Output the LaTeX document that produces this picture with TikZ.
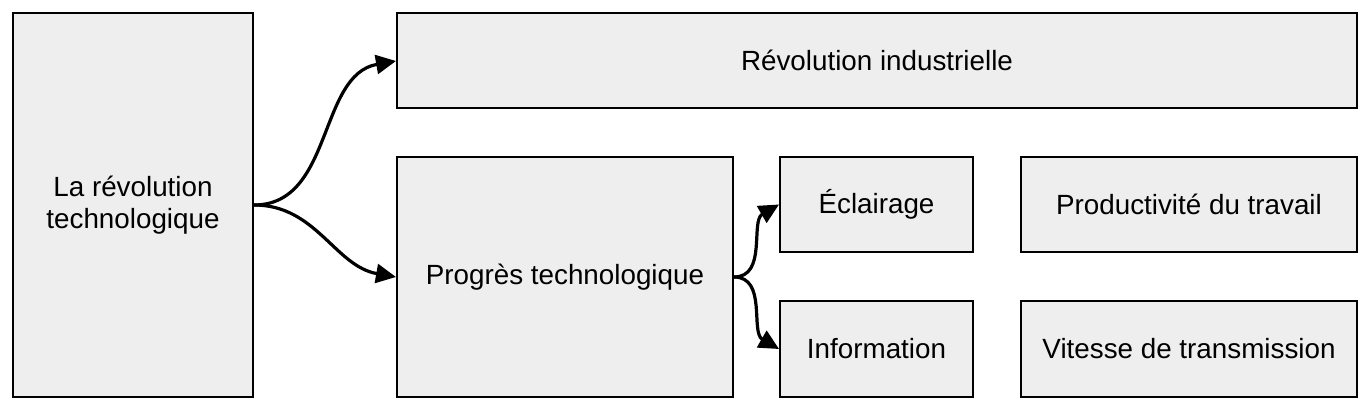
\documentclass[tikz,border=0pt]{standalone}
\usepackage{fontspec}
\setmainfont{Liberation Sans}
\usetikzlibrary{arrows.meta}

\begin{document}
\begin{tikzpicture}[x=1pt, y=-1pt,
    box/.style={draw, line width=2pt, fill=boxgray, inner sep=0pt,
        align=center, font=\fontsize{27.8}{32}\selectfont},
    link/.style={line width=3.2pt, -{Triangle[length=20pt, width=19pt]}}]
    \definecolor{boxgray}{HTML}{EEEEEE}
    \useasboundingbox (0,0) rectangle (1371,411);

    \node[box, minimum width=240pt, minimum height=384pt] (revtech) at (133,205) {La révolution\\technologique};
    \node[box, minimum width=960pt, minimum height=95pt] (revind) at (877,60.5) {Révolution industrielle};
    \node[box, minimum width=336pt, minimum height=240pt] (progres) at (565,277) {Progrès technologique};

    \node[box, minimum width=193pt, minimum height=95pt] (eclair) at (876.5,204.5) {Éclairage};
    \node[box, minimum width=193pt, minimum height=96pt] (info) at (876.5,349) {Information};
    \node[box, minimum width=336pt, minimum height=95pt] (prod) at (1189,204.5) {Productivité du travail};
    \node[box, minimum width=336pt, minimum height=96pt] (vitesse) at (1189,349) {Vitesse de transmission};

    \draw[link] (revtech.east) to[out=0, in=190] (revind.west |- 0,61);
    \draw[link] (revtech.east) to[out=0, in=170] (progres.west);
    \draw[link] (progres.east) to[out=0, in=210] (eclair.west);
    \draw[link] (progres.east) to[out=0, in=150] (info.west);
\end{tikzpicture}
\end{document}
